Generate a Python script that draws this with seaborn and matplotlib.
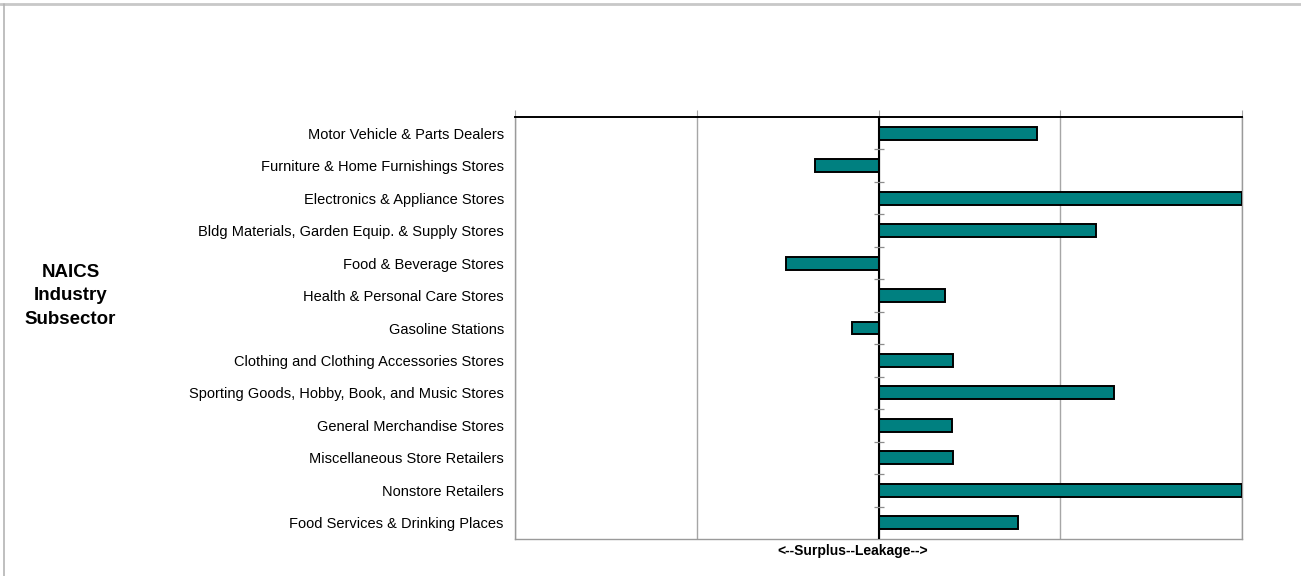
import matplotlib
matplotlib.use("Agg")
import matplotlib.pyplot as plt
from matplotlib.lines import Line2D
import seaborn as sns
import pandas as pd
import numpy as np

# Retail leakage/surplus factor by NAICS industry subsector
subsectors = [
    "Motor Vehicle & Parts Dealers",
    "Furniture & Home Furnishings Stores",
    "Electronics & Appliance Stores",
    "Bldg Materials, Garden Equip. & Supply Stores",
    "Food & Beverage Stores",
    "Health & Personal Care Stores",
    "Gasoline Stations",
    "Clothing and Clothing Accessories Stores",
    "Sporting Goods, Hobby, Book, and Music Stores",
    "General Merchandise Stores",
    "Miscellaneous Store Retailers",
    "Nonstore Retailers",
    "Food Services & Drinking Places",
]
factor = [43.5, -17.4, 100.0, 59.9, -25.4, 18.3, -7.2,
          20.6, 64.8, 20.1, 20.4, 100.0, 38.3]

df = pd.DataFrame({"Subsector": subsectors, "Factor": factor})

sns.set_theme(style="white")
plt.rcParams["font.family"] = ["Liberation Sans", "DejaVu Sans"]
plt.rcParams["text.color"] = "black"

fig = plt.figure(figsize=(13.01, 5.76), dpi=100)
ax = fig.add_axes([0.3958, 0.0642, 0.5589, 0.7327])

sns.barplot(data=df, x="Factor", y="Subsector", orient="h", ax=ax,
            color="#008080", edgecolor="black", linewidth=1.4,
            width=0.4, saturation=1, zorder=3)

ax.set_xlim(-100, 100)
ax.set_ylim(len(subsectors) - 0.5, -0.5)

# Vertical gridlines every 50 units
ax.set_xticks([-100, -50, 0, 50, 100])
ax.set_xticklabels([])
ax.grid(axis="x", color="#a6a6a6", linewidth=1.0, zorder=0)
ax.grid(axis="y", visible=False)
ax.xaxis.set_ticks_position("top")
ax.tick_params(axis="x", which="major", direction="out", length=5,
               width=0.8, color="#a6a6a6", top=True, bottom=False,
               labeltop=False, labelbottom=False)

# Category axis at zero with tick marks between categories
ax.axvline(0, color="black", linewidth=1.5, zorder=4)
bounds = np.arange(len(subsectors) - 1) + 0.5
ax.hlines(bounds, -1.2, 1.4, color="#8c8c8c", linewidth=0.9, zorder=4)

ax.tick_params(axis="y", length=0, pad=8, labelsize=10.5, colors="black")
ax.set_ylabel("")
ax.set_xlabel("")

for side in ["left", "bottom", "right"]:
    ax.spines[side].set_color("#9a9a9a")
    ax.spines[side].set_linewidth(1.0)
ax.spines["top"].set_color("black")
ax.spines["top"].set_linewidth(1.4)

fig.text(853 / 1301, 1 - 551 / 576, "<--Surplus--Leakage-->",
         ha="center", va="center", fontsize=10, fontweight="bold",
         color="black")
fig.text(70.5 / 1301, 1 - 296 / 576, "NAICS\nIndustry\nSubsector",
         ha="center", va="center", fontsize=13.5, fontweight="bold",
         linespacing=1.47, color="black")

# Outer frame (top and left edges)
fig.add_artist(Line2D([0, 1], [1 - 4 / 576, 1 - 4 / 576],
                      transform=fig.transFigure, color="#c8c8c8", linewidth=2))
fig.add_artist(Line2D([4 / 1301, 4 / 1301], [0, 1 - 4 / 576],
                      transform=fig.transFigure, color="#b4b4b4", linewidth=1.2))

fig.savefig("out.png", dpi=100)
